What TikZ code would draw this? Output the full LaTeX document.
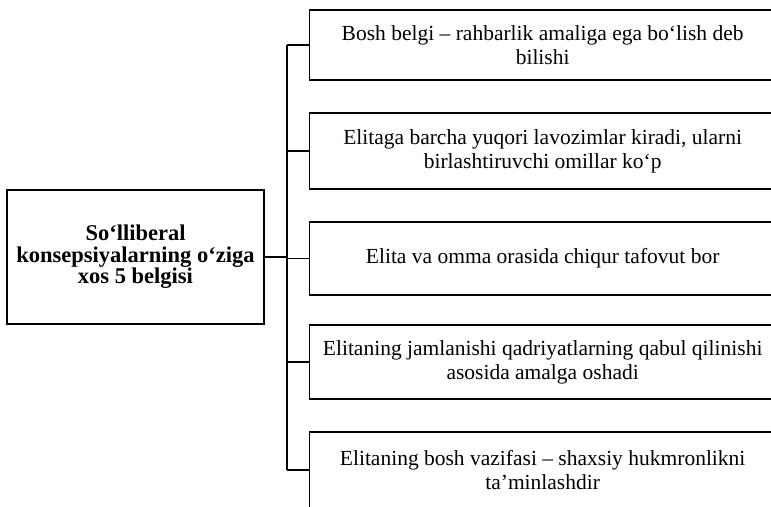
\documentclass[tikz,border=0pt]{standalone}
\usepackage{fontspec}
\setmainfont{Liberation Serif}
\usetikzlibrary{positioning,calc}
\tikzset{
  wire/.style={draw=black,line width=1.3pt},
  sign/.style={draw=black,line width=1.3pt,anchor=west,minimum width=466pt,
    inner sep=0pt,align=center,font=\fontsize{21.5}{24}\selectfont},
  head/.style={draw=black,line width=1.3pt,minimum width=257pt,minimum height=134pt,
    inner sep=0pt,align=center,font=\fontsize{22.5}{21.5}\selectfont\bfseries},
}
\begin{document}
\begin{tikzpicture}[x=1pt,y=-1pt]
        \useasboundingbox (0,0) rectangle (771,506);
        \node[head] (main) at (135.5,257) {So‘lliberal\\konsepsiyalarning o‘ziga\\xos 5 belgisi};
        \node[sign,minimum height=70pt] (b1) at (309,45) {Bosh belgi – rahbarlik amaliga ega bo‘lish deb\\bilishi};
        \node[sign,minimum height=76pt] (b2) at (309,151) {Elitaga barcha yuqori lavozimlar kiradi, ularni\\birlashtiruvchi omillar ko‘p};
        \node[sign,minimum height=73pt] (b3) at (309,258.5) {Elita va omma orasida chiqur tafovut bor};
        \node[sign,minimum height=74pt] (b4) at (309,362) {Elitaning jamlanishi qadriyatlarning qabul qilinishi\\asosida amalga oshadi};
        \node[sign,minimum height=76pt] (b5) at (309,470) {Elitaning bosh vazifasi – shaxsiy hukmronlikni\\ta’minlashdir};
        \coordinate (trunk) at (287,0);
        \draw[wire] (b1.west -| trunk) -- (b5.west -| trunk);
        \foreach \i in {1,...,5} \draw[wire] (b\i.west) -- (b\i.west -| trunk);
        \draw[wire] (main.east) -- (main.east -| trunk);
      \end{tikzpicture}
\end{document}
